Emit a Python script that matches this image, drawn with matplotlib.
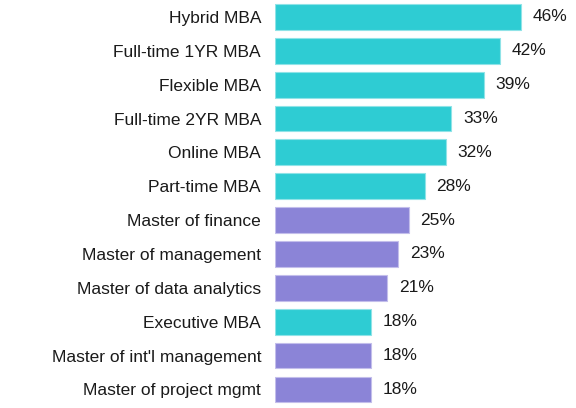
import matplotlib
matplotlib.use('Agg')
import matplotlib.pyplot as plt

programs = ['Hybrid MBA', 'Full-time 1YR MBA', 'Flexible MBA', 'Full-time 2YR MBA',
            'Online MBA', 'Part-time MBA', 'Master of finance', 'Master of management',
            'Master of data analytics', 'Executive MBA', "Master of int'l management",
            'Master of project mgmt']
values = [46, 42, 39, 33, 32, 28, 25, 23, 21, 18, 18, 18]
is_mba = [True, True, True, True, True, True, False, False, False, True, False, False]

teal = '#2ECCD3'
purple = '#8B84D7'
colors = [teal if m else purple for m in is_mba]
edges = ['#8FE3E7' if m else '#C3BEEB' for m in is_mba]

plt.rcParams['font.family'] = ['Liberation Sans', 'DejaVu Sans']

fig = plt.figure(figsize=(5.76, 4.08), dpi=100)
ax = fig.add_axes([275 / 576, 0.0, 301 / 576, 1.0])

pos = range(len(programs))
ax.barh(pos, values, height=0.76, color=colors, edgecolor=edges, linewidth=0.8)
for i, v in enumerate(values):
    ax.text(v + 2.2, i, f'{v}%', va='center', ha='left', fontsize=12.5, color='#1a1a1a')

ax.set_xlim(0, 56.3)
ax.set_ylim(11.55, -0.5)
ax.set_yticks(list(pos))
ax.set_yticklabels(programs, fontsize=12.5, color='#1a1a1a')
ax.tick_params(axis='y', length=0, pad=10)
ax.set_xticks([])
for s in ax.spines.values():
    s.set_visible(False)

fig.savefig('out.png', dpi=100)
